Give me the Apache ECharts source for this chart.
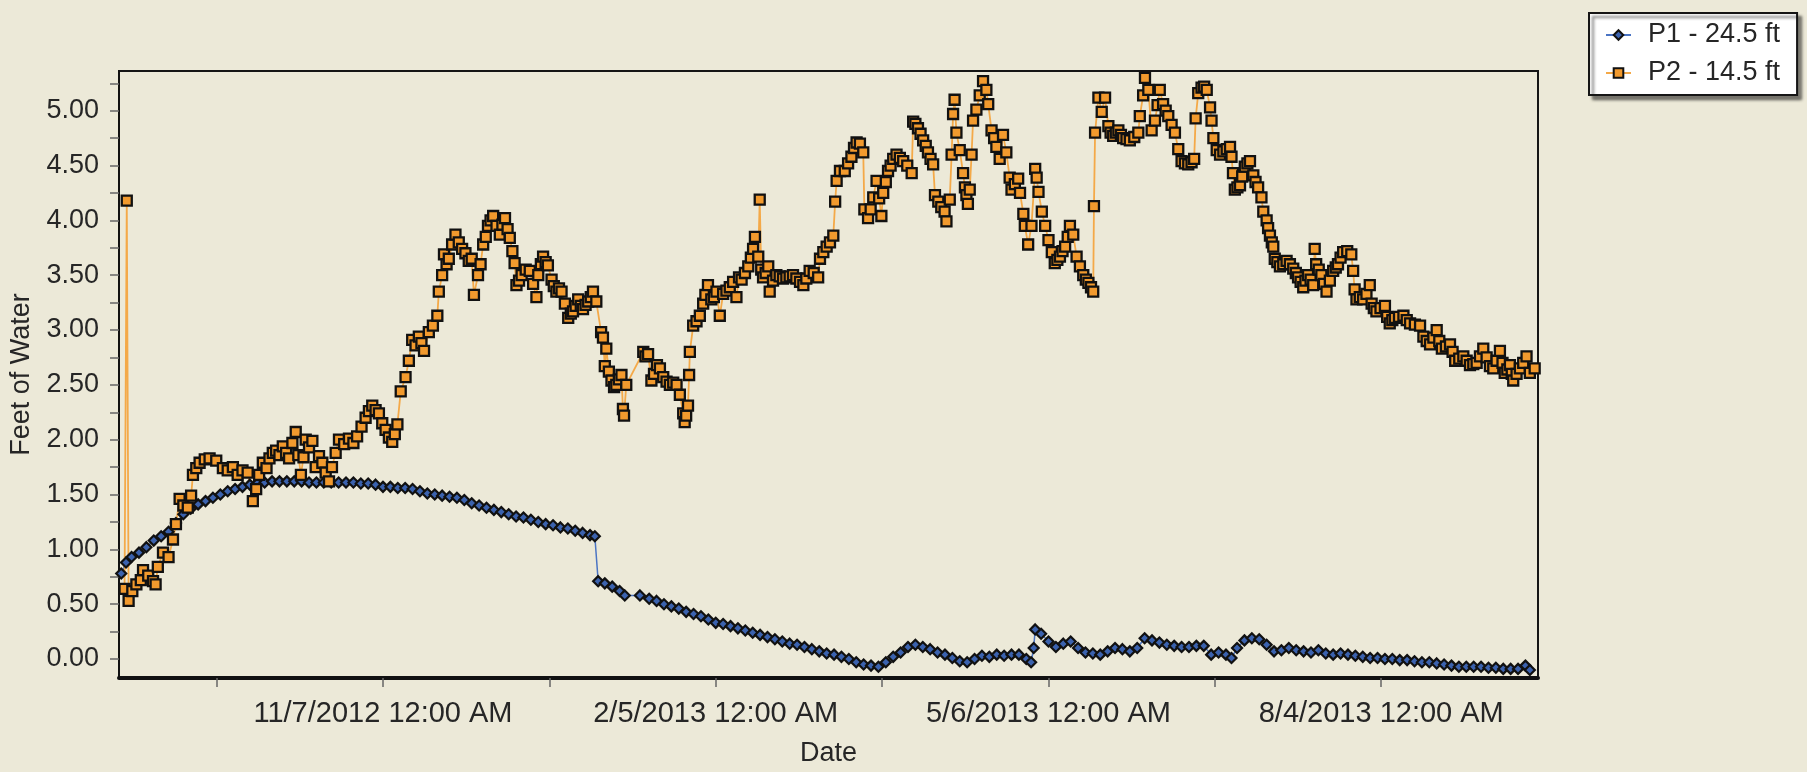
<!DOCTYPE html>
<html>
<head>
<meta charset="utf-8">
<script src="https://cdn.jsdelivr.net/npm/echarts@6/dist/echarts.min.js"></script>
<style>
  html, body { margin: 0; padding: 0; background: #ECE9D8; }
  #chart { width: 1807px; height: 772px; }
</style>
</head>
<body>
<div id="chart"></div>
<script>
// Piezometer readings as [days after 11/7/2012, feet of water]
const P1_NAME = 'P1 - 24.5 ft';
const P2_NAME = 'P2 - 14.5 ft';

const p1Readings = [
  [-70.8,0.78],[-69.5,0.88],[-68,0.93],[-66,0.97],[-64,1.02],[-62,1.08],[-60,1.12],[-58,1.16],
  [-56,1.24],[-54,1.32],[-52,1.37],[-50,1.41],[-48,1.44],[-46,1.47],[-44,1.50],[-42,1.53],
  [-40,1.55],[-38,1.57],[-36,1.59],[-34,1.60],[-32,1.61],[-30,1.62],[-28,1.62],[-26,1.62],
  [-24,1.62],[-22,1.62],[-20,1.61],[-18,1.61],[-16,1.61],[-14,1.61],[-12,1.61],[-10,1.61],
  [-8,1.61],[-6,1.60],[-4,1.60],[-2,1.59],[0,1.57],[2,1.57],[4,1.56],[6,1.56],[8,1.55],
  [10,1.53],[12,1.51],[14,1.50],[16,1.49],[18,1.48],[20,1.47],[22,1.45],[24,1.42],[26,1.40],
  [28,1.38],[30,1.36],[32,1.34],[34,1.32],[36,1.30],[38,1.29],[40,1.27],[42,1.25],[44,1.23],
  [46,1.22],[48,1.20],[50,1.19],[52,1.17],[54,1.15],[56,1.13],[57.3,1.12],[58.2,0.71],
  [60,0.69],[62,0.66],[64,0.62],[65.4,0.58],[69.5,0.58],[72,0.55],[74,0.53],[76,0.50],
  [78,0.48],[80,0.46],[82,0.43],[84,0.41],[86,0.39],[88,0.36],[90,0.33],[92,0.32],[94,0.30],
  [96,0.28],[98,0.26],[100,0.24],[102,0.22],[104,0.20],[106,0.18],[108,0.16],[110,0.14],
  [112,0.13],[114,0.11],[116,0.09],[118,0.07],[120,0.05],[122,0.04],[124,0.02],[126,0.00],
  [128,-0.03],[130,-0.05],[132,-0.06],[134,-0.07],[136,-0.03],[138,0.02],[140,0.06],[142,0.11],
  [144,0.13],[146,0.11],[148,0.09],[150,0.06],[152,0.04],[154,0.01],[156,-0.02],[158,-0.03],
  [160,0.00],[162,0.03],[164,0.02],[166,0.04],[168,0.03],[170,0.04],[172,0.04],[174,0.00],
  [175.3,-0.03],[176,0.10],[176.4,0.27],[178,0.23],[180,0.16],[182,0.11],[184,0.14],[186,0.16],
  [188,0.10],[190,0.06],[192,0.05],[194,0.04],[196,0.07],[198,0.10],[200,0.09],[202,0.07],
  [204,0.10],[206,0.19],[208,0.17],[210,0.15],[212,0.13],[214,0.12],[216,0.11],[218,0.11],
  [220,0.12],[222,0.12],[224,0.04],[226,0.06],[228,0.04],[229.5,0.01],[231,0.10],[233,0.17],
  [235,0.19],[237,0.18],[239,0.13],[241,0.07],[243,0.08],[245,0.10],[247,0.08],[249,0.07],
  [251,0.06],[253,0.08],[255,0.05],[257,0.04],[259,0.05],[261,0.04],[263,0.03],[265,0.02],
  [267,0.01],[269,0.01],[271,0.00],[273,0.00],[275,-0.01],[277,-0.01],[279,-0.02],[281,-0.03],
  [283,-0.03],[285,-0.04],[287,-0.05],[289,-0.06],[291,-0.07],[293,-0.07],[295,-0.07],
  [297,-0.07],[299,-0.08],[301,-0.08],[303,-0.09],[305,-0.09],[307,-0.09],[309,-0.06],[310.2,-0.10]
];

const p2Readings = [
  [-69.9,0.64],[-69.3,4.18],[-68.8,0.53],[-67.8,0.62],[-66.7,0.68],[-65.5,0.72],[-64.9,0.81],
  [-63.5,0.76],[-62.2,0.71],[-61.5,0.68],[-60.9,0.84],[-59.5,0.97],[-58,0.93],[-56.8,1.09],
  [-56,1.23],[-55,1.46],[-54,1.40],[-52.8,1.38],[-51.9,1.49],[-51.4,1.68],[-50.5,1.74],
  [-49.6,1.79],[-48.2,1.82],[-46.9,1.83],[-45.1,1.81],[-43.3,1.74],[-42,1.72],[-40.6,1.75],
  [-39.3,1.68],[-38,1.72],[-36.6,1.70],[-35.2,1.44],[-34.3,1.55],[-33.5,1.68],[-32.5,1.79],
  [-31.5,1.74],[-30.7,1.83],[-29.8,1.88],[-28.9,1.90],[-28,1.86],[-27.1,1.94],[-26.2,1.88],
  [-25.4,1.83],[-24.5,1.97],[-23.6,2.07],[-22.9,1.86],[-22.2,1.68],[-21.5,1.84],[-20.9,2.00],
  [-20,1.93],[-19.1,1.99],[-18.2,1.75],[-17.3,1.85],[-16.4,1.79],[-15.5,1.70],[-14.6,1.62],
  [-13.8,1.75],[-12.8,1.88],[-11.9,2.00],[-10.5,1.96],[-9.2,2.01],[-8,1.97],[-7,2.03],
  [-5.8,2.12],[-4.7,2.20],[-3.8,2.26],[-2.9,2.31],[-2,2.27],[-1.1,2.24],[-0.2,2.15],[0.7,2.09],
  [1.6,2.02],[2.5,1.98],[3.2,2.05],[3.9,2.14],[4.8,2.44],[6.1,2.57],[7,2.72],[7.9,2.91],
  [8.8,2.86],[9.7,2.94],[10.4,2.88],[11.1,2.81],[12.4,2.98],[13.5,3.04],[14.7,3.13],[15.1,3.35],
  [16,3.50],[16.5,3.69],[17.2,3.60],[17.8,3.65],[18.7,3.78],[19.6,3.87],[20.5,3.80],[21.4,3.74],
  [22.3,3.70],[23.2,3.63],[24,3.65],[24.6,3.32],[25.7,3.50],[26.4,3.60],[27.1,3.78],[27.8,3.85],
  [28.4,3.95],[29.1,4.00],[29.8,4.04],[30.7,3.95],[31.6,3.87],[32.3,3.96],[33,4.02],[33.7,3.92],
  [34.3,3.84],[35,3.72],[35.6,3.61],[36.1,3.41],[36.8,3.45],[37.5,3.50],[38.6,3.55],[39.7,3.54],
  [40.6,3.42],[41.5,3.30],[42,3.50],[42.7,3.60],[43.3,3.67],[44,3.62],[44.6,3.59],[45.6,3.46],
  [46.2,3.40],[46.9,3.35],[47.6,3.38],[48.3,3.35],[49.2,3.24],[50.1,3.11],[50.8,3.15],[51.4,3.17],
  [52.1,3.22],[52.8,3.28],[53.5,3.22],[54.1,3.19],[54.8,3.23],[55.5,3.26],[56.2,3.30],[56.8,3.35],
  [57.7,3.26],[59,2.98],[59.5,2.93],[60,2.67],[60.4,2.83],[61.1,2.62],[61.8,2.54],[62.5,2.48],
  [63.1,2.50],[63.8,2.55],[64.5,2.59],[64.9,2.28],[65.2,2.22],[65.8,2.50],[70.4,2.80],[71,2.76],
  [71.7,2.78],[72.6,2.54],[73.3,2.60],[74.1,2.68],[74.9,2.65],[75.8,2.57],[76.7,2.53],[77.6,2.50],
  [78.5,2.52],[79.4,2.50],[80.3,2.41],[81.2,2.24],[81.6,2.16],[82,2.22],[82.5,2.31],[82.8,2.59],
  [83,2.80],[83.9,3.04],[84.8,3.08],[85.7,3.13],[86.6,3.24],[87.2,3.32],[87.9,3.41],[88.8,3.28],
  [89.5,3.30],[90.2,3.35],[91.1,3.13],[92,3.33],[92.9,3.36],[93.8,3.39],[94.7,3.44],[95.6,3.30],
  [96.3,3.48],[97,3.46],[97.9,3.52],[98.8,3.58],[99.5,3.66],[100.1,3.74],[100.6,3.85],[101.5,3.67],
  [101.9,4.19],[102.3,3.55],[102.8,3.48],[103.5,3.52],[104.2,3.58],[104.6,3.35],[105.5,3.45],
  [106.4,3.50],[107.3,3.49],[108.2,3.47],[109.1,3.48],[110,3.49],[110.9,3.50],[111.8,3.47],
  [112.8,3.44],[113.7,3.41],[114.5,3.47],[115.4,3.54],[116.5,3.52],[117.7,3.48],[118.2,3.65],
  [119.1,3.71],[120,3.76],[120.9,3.80],[121.8,3.86],[122.3,4.17],[122.7,4.36],[123.6,4.45],
  [124.9,4.45],[125.8,4.52],[126.7,4.58],[127.4,4.66],[128.1,4.71],[129,4.70],[129.9,4.62],
  [130.2,4.10],[131.2,4.02],[131.9,4.10],[132.6,4.21],[133.5,4.36],[134.2,4.20],[134.8,4.04],
  [135.3,4.25],[136,4.35],[136.6,4.45],[137.3,4.50],[138,4.56],[138.9,4.60],[139.8,4.57],
  [140.7,4.54],[141.8,4.50],[143,4.43],[143.4,4.90],[144,4.88],[144.7,4.84],[145.4,4.79],
  [146.1,4.73],[146.8,4.68],[147.4,4.62],[148.1,4.56],[148.8,4.51],[149.3,4.23],[150.2,4.17],
  [151,4.12],[151.9,4.08],[152.4,3.99],[153.3,4.19],[153.8,4.60],[154.2,4.97],[154.6,5.10],
  [155.1,4.80],[156,4.64],[156.9,4.43],[157.4,4.30],[157.8,4.23],[158.2,4.15],[158.7,4.28],
  [159.2,4.60],[159.6,4.91],[160.5,5.01],[161.4,5.14],[162.3,5.27],[163.2,5.19],[163.7,5.06],
  [164.6,4.82],[165.3,4.75],[165.9,4.67],[166.8,4.56],[167.7,4.78],[168.6,4.62],[169.5,4.39],
  [170,4.28],[170.9,4.33],[171.8,4.38],[172.3,4.25],[173.2,4.06],[173.6,3.95],[174.5,3.78],
  [175.4,3.95],[176.4,4.47],[176.8,4.39],[177.3,4.26],[178.2,4.08],[179.1,3.95],[180,3.82],
  [180.9,3.71],[181.7,3.61],[182.4,3.64],[183.1,3.67],[183.8,3.72],[184.5,3.76],[185.2,3.85],
  [185.8,3.95],[186.7,3.87],[187.6,3.67],[188.5,3.58],[189.4,3.50],[190.1,3.46],[190.8,3.43],
  [191.5,3.39],[192.1,3.35],[192.3,4.13],[192.6,4.80],[193.5,5.12],[194.4,4.99],[195.3,5.12],
  [196.2,4.86],[196.8,4.80],[197.5,4.77],[198.2,4.80],[198.9,4.82],[199.6,4.78],[200.2,4.75],
  [201.1,4.74],[202,4.73],[203.2,4.76],[204.3,4.80],[204.7,4.95],[205.6,5.14],[206.1,5.30],
  [207,5.19],[207.9,4.82],[208.8,4.91],[209.5,5.05],[210.1,5.19],[211,5.06],[211.7,5.00],
  [212.4,4.95],[213.3,4.87],[214.2,4.80],[215.1,4.65],[216,4.54],[216.9,4.52],[217.8,4.51],
  [218.7,4.53],[219.4,4.56],[219.8,4.93],[220.5,5.16],[221.4,5.21],[222.1,5.22],[222.8,5.19],
  [223.7,5.03],[224.1,4.91],[224.6,4.75],[225.5,4.64],[226.4,4.60],[227.3,4.63],[228.2,4.65],
  [229.1,4.67],[229.5,4.58],[229.9,4.43],[230.4,4.28],[231.1,4.30],[231.8,4.32],[232.4,4.40],
  [233.1,4.49],[233.8,4.52],[234.5,4.54],[235.4,4.41],[236,4.35],[236.7,4.30],[237.6,4.21],
  [238.1,4.08],[239,4.00],[239.4,3.93],[239.9,3.86],[240.4,3.80],[240.8,3.76],[241.2,3.65],
  [241.9,3.62],[242.6,3.58],[243.5,3.60],[244.4,3.63],[245.3,3.60],[246.2,3.56],[246.9,3.52],
  [247.5,3.48],[248.2,3.44],[248.9,3.39],[249.5,3.45],[250.2,3.50],[250.9,3.46],[251.6,3.41],
  [252,3.74],[252.4,3.60],[253.1,3.55],[253.8,3.50],[254.5,3.42],[255.2,3.35],[256.1,3.45],
  [257,3.54],[257.7,3.57],[258.3,3.60],[259,3.66],[259.7,3.71],[260.8,3.72],[261.9,3.69],
  [262.4,3.54],[262.8,3.37],[263.3,3.28],[264.2,3.30],[265.1,3.28],[266,3.33],[266.9,3.41],
  [267.4,3.24],[268,3.20],[268.7,3.17],[269.8,3.20],[271,3.22],[271.6,3.12],[272.3,3.06],
  [273,3.09],[273.7,3.11],[274.8,3.12],[276,3.13],[276.9,3.09],[277.8,3.06],[279.1,3.05],
  [280.5,3.04],[281.4,2.94],[282.3,2.90],[283.2,2.87],[284.1,2.93],[285,3.00],[285.7,2.90],
  [286.4,2.83],[287.5,2.85],[288.6,2.87],[289.3,2.80],[290,2.72],[291.1,2.74],[292.2,2.76],
  [293.1,2.72],[294,2.68],[294.9,2.69],[295.8,2.70],[296.7,2.76],[297.6,2.83],[298.5,2.75],
  [299.4,2.67],[300.3,2.65],[301.2,2.72],[302.1,2.81],[302.8,2.70],[303.4,2.61],[304.1,2.64],
  [304.8,2.68],[305.3,2.60],[305.7,2.54],[306.6,2.60],[307.5,2.65],[308.4,2.70],[309.3,2.76],
  [310.2,2.61],[311.5,2.65]
];

// Axis ticks and labels (x in days after 11/7/2012)
const xLabelDays = [0, 90, 180, 270];
const xTickDays = [-45, 0, 45, 90, 135, 180, 225, 270];
const yLabelValues = [0, 0.5, 1, 1.5, 2, 2.5, 3, 3.5, 4, 4.5, 5];
const yTickValues = [0, 0.25, 0.5, 0.75, 1, 1.25, 1.5, 1.75, 2, 2.25, 2.5, 2.75,
                     3, 3.25, 3.5, 3.75, 4, 4.25, 4.5, 4.75, 5, 5.25];
const X_MIN = -71.4, X_MAX = 312.4;
const Y_MIN = -0.173, Y_MAX = 5.362;

const DAY0 = Date.UTC(2012, 10, 7);
function dateLabel(d) {
  const t = new Date(DAY0 + Math.round(d) * 86400000);
  return (t.getUTCMonth() + 1) + '/' + t.getUTCDate() + '/' + t.getUTCFullYear() + ' 12:00 AM';
}

const FONT = '"Liberation Sans", Arial, sans-serif';
const TEXT = '#262626';

const chart = echarts.init(document.getElementById('chart'), null, { renderer: 'canvas' });
chart.setOption({
  backgroundColor: '#ECE9D8',
  animation: false,
  textStyle: { fontFamily: FONT },
  grid: {
    left: 119, right: 269, top: 71, bottom: 93,
    show: true, backgroundColor: '#ECE9D8', borderColor: '#151515', borderWidth: 2
  },
  legend: {
    orient: 'vertical', left: 1589, top: 13,
    padding: [7, 17, 7, 16],
    itemWidth: 25, itemHeight: 12, itemGap: 8,
    backgroundColor: '#ffffff', borderColor: '#151515', borderWidth: 2,
    shadowColor: 'rgba(0,0,0,0.5)', shadowBlur: 3, shadowOffsetX: 4, shadowOffsetY: 4,
    textStyle: { fontFamily: FONT, fontSize: 27, color: TEXT, lineHeight: 30, padding: [0, 0, 0, 12] },
    data: [P1_NAME, P2_NAME]
  },
  xAxis: {
    type: 'value', min: X_MIN, max: X_MAX,
    name: 'Date', nameLocation: 'middle', nameGap: 62,
    nameTextStyle: { fontFamily: FONT, fontSize: 27, color: TEXT },
    splitLine: { show: false },
    axisLine: { show: true, onZero: false, lineStyle: { color: '#111', width: 4 } },
    axisTick: { show: true, length: 9, customValues: xTickDays, lineStyle: { color: '#666', width: 1.5 } },
    axisLabel: {
      customValues: xLabelDays, margin: 21,
      fontFamily: FONT, fontSize: 29, color: TEXT,
      formatter: (v) => dateLabel(v)
    }
  },
  yAxis: {
    type: 'value', min: Y_MIN, max: Y_MAX,
    name: 'Feet of Water', nameLocation: 'middle', nameGap: 84, nameRotate: 90,
    nameTextStyle: { fontFamily: FONT, fontSize: 27, color: TEXT },
    splitLine: { show: false },
    axisLine: { show: true, onZero: false, lineStyle: { color: '#111', width: 2 } },
    axisTick: { show: true, length: 9, customValues: yTickValues, lineStyle: { color: '#666', width: 1.5 } },
    axisLabel: {
      customValues: yLabelValues, margin: 20,
      fontFamily: FONT, fontSize: 27, color: TEXT,
      formatter: (v) => v.toFixed(2)
    }
  },
  series: [
    {
      name: P1_NAME, type: 'line', data: p1Readings,
      symbol: 'diamond', symbolSize: 10, showAllSymbol: true,
      lineStyle: { color: '#4A74C4', width: 1.5 },
      itemStyle: { color: '#3B62AE', borderColor: '#111', borderWidth: 2.2 },
      emphasis: { disabled: true }
    },
    {
      name: P2_NAME, type: 'line', data: p2Readings,
      symbol: 'rect', symbolSize: 10, showAllSymbol: true,
      lineStyle: { color: '#F4A948', width: 1.8 },
      itemStyle: { color: '#F29A2E', borderColor: '#111', borderWidth: 2.3 },
      emphasis: { disabled: true }
    }
  ]
});
</script>
</body>
</html>
